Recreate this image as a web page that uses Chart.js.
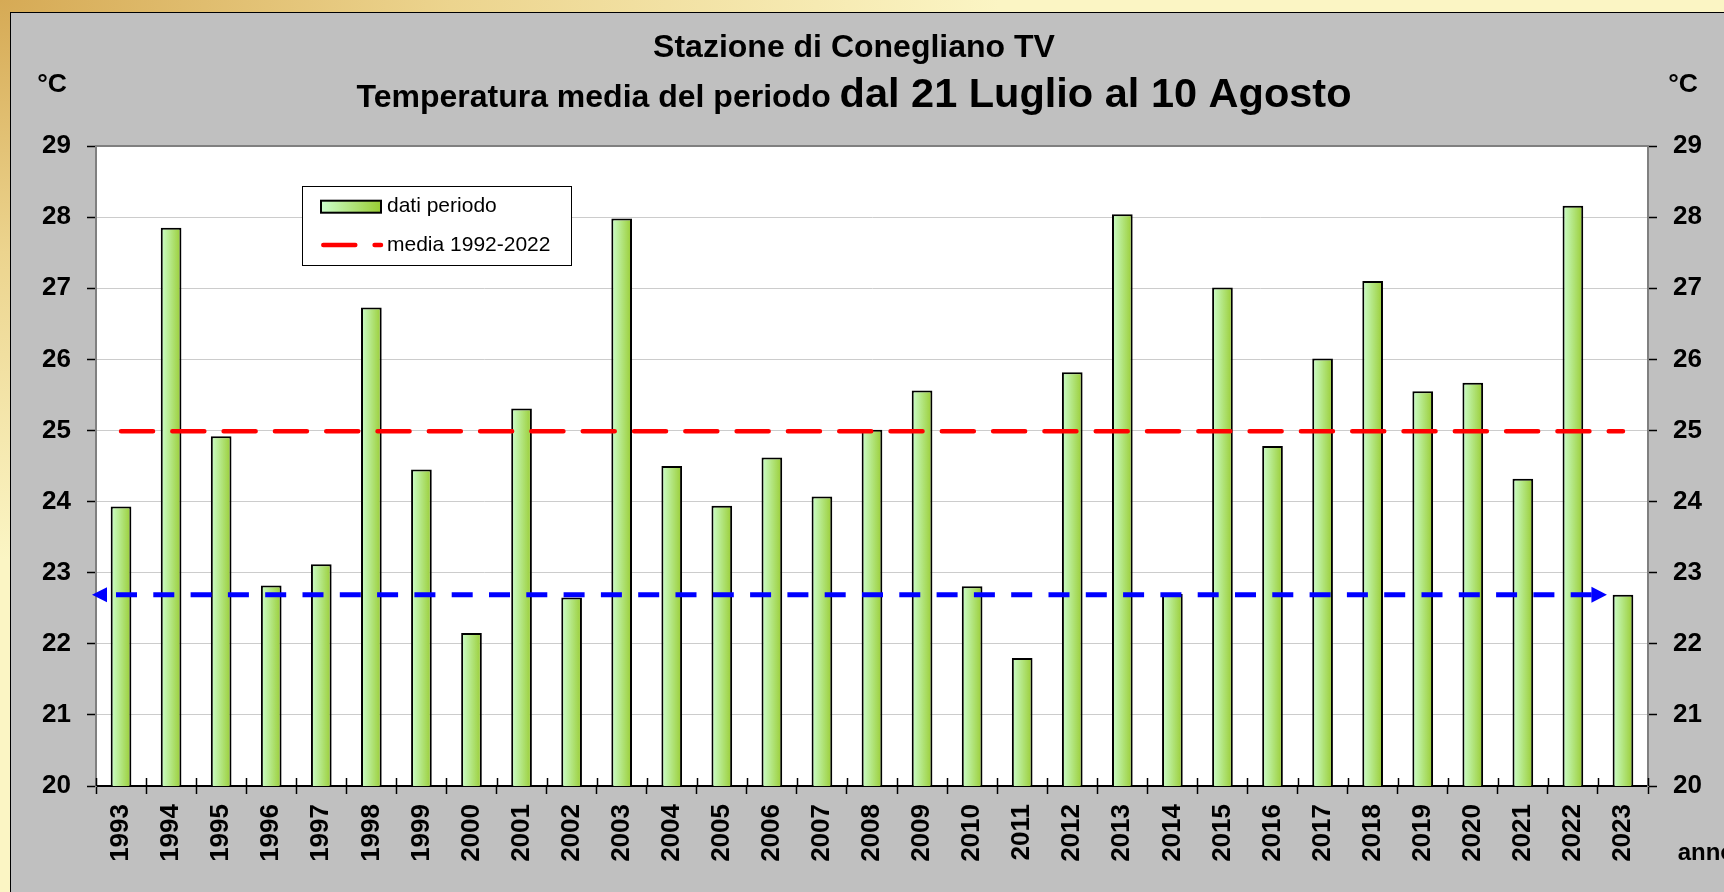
<!DOCTYPE html>
<html>
<head>
<meta charset="utf-8">
<script src="https://cdn.jsdelivr.net/npm/chart.js@4.4.1/dist/chart.umd.min.js"></script>
<style>
  html, body { margin: 0; padding: 0; }
  body {
    width: 1724px; height: 892px; overflow: hidden;
    background-color: #fbf5c4;
    background-image: radial-gradient(ellipse 1000px 560px at 0 0, #d6aa55 0%, #ecd48e 45%, #fbf5c4 100%);
  }
  #pannello {
    position: absolute; left: 10px; top: 12px;
    width: 1714px; height: 880px;
    border-left: 1px solid #000; border-top: 1px solid #000;
    background: #c0c0c0;
  }
  canvas { display: block; }
</style>
</head>
<body>
<div id="pannello"><canvas id="grafico" width="1713" height="879"></canvas></div>
<script>
// dati
const anni = ['1993', '1994', '1995', '1996', '1997', '1998', '1999', '2000', '2001', '2002',
  '2003', '2004', '2005', '2006', '2007', '2008', '2009', '2010', '2011', '2012',
  '2013', '2014', '2015', '2016', '2017', '2018', '2019', '2020', '2021', '2022', '2023'];
const temperature = [23.93, 27.85, 24.92, 22.82, 23.12, 26.73, 24.45, 22.15, 25.31, 22.65,
  27.98, 24.50, 23.94, 24.62, 24.07, 25.01, 25.56, 22.81, 21.80, 25.82,
  28.04, 22.70, 27.01, 24.78, 26.01, 27.10, 25.55, 25.67, 24.32, 28.16, 22.69];
const mediaPeriodo = 24.99;       // media 1992-2022
const livello2023 = 22.69;        // freccia blu
const yMin = 20;
const yMax = 29;

const FONT = 'Liberation Sans, Arial, sans-serif';
const BAR_PCT = 0.413;
const rossoDash = [32, 19.3];

function gradienteBarra(ctx, x0, x1) {
  const g = ctx.createLinearGradient(x0, 0, x1, 0);
  g.addColorStop(0, '#ccffcc');
  g.addColorStop(1, '#99cc33');
  return g;
}

const sfondo = {
  id: 'sfondo',
  beforeDraw(chart) {
    const { ctx, chartArea: a } = chart;
    ctx.save();
    ctx.fillStyle = '#ffffff';
    ctx.fillRect(a.left, a.top, a.right - a.left, a.bottom - a.top);
    ctx.restore();
  },
  beforeDatasetsDraw(chart) {
    const { ctx, chartArea: a } = chart;
    ctx.save();
    ctx.strokeStyle = '#808080';
    ctx.lineWidth = 2;
    ctx.beginPath();
    ctx.moveTo(a.left, a.top);
    ctx.lineTo(a.right, a.top);
    ctx.stroke();
    // tacche interne asse x
    const xs = chart.scales.x;
    ctx.strokeStyle = '#000';
    ctx.lineWidth = 1.5;
    for (let i = 0; i <= anni.length; i++) {
      const px = Math.round(xs.getPixelForValue(i - 0.5)) + 0.5;
      ctx.beginPath();
      ctx.moveTo(px, a.bottom);
      ctx.lineTo(px, a.bottom - 8);
      ctx.stroke();
    }
    ctx.restore();
  }
};

const freccia = {
  id: 'freccia',
  afterDatasetsDraw(chart) {
    const { ctx, chartArea: a } = chart;
    const xs = chart.scales.x;
    const y = chart.scales.y.getPixelForValue(livello2023);
    const passo = xs.getPixelForValue(1) - xs.getPixelForValue(0);
    const x0 = a.left - 4;
    const x1 = xs.getPixelForValue(anni.length - 1) - passo * 0.32;
    ctx.save();
    ctx.strokeStyle = '#0000ff';
    ctx.fillStyle = '#0000ff';
    ctx.lineWidth = 5;
    ctx.setLineDash([21, 16.3]);
    ctx.beginPath();
    ctx.moveTo(x0 + 24, y);
    ctx.lineTo(x1 - 14, y);
    ctx.stroke();
    ctx.setLineDash([]);
    ctx.beginPath();
    ctx.moveTo(x0, y);
    ctx.lineTo(x0 + 15, y - 7.5);
    ctx.lineTo(x0 + 15, y + 7.5);
    ctx.closePath();
    ctx.fill();
    ctx.beginPath();
    ctx.moveTo(x1, y);
    ctx.lineTo(x1 - 15.5, y - 8);
    ctx.lineTo(x1 - 15.5, y + 8);
    ctx.closePath();
    ctx.fill();
    ctx.restore();
  }
};

const testi = {
  id: 'testi',
  afterDraw(chart) {
    const { ctx, chartArea: a } = chart;
    ctx.save();
    ctx.fillStyle = '#000';
    ctx.textBaseline = 'alphabetic';

    // titolo
    const cx = 843;
    ctx.font = 'bold 32px ' + FONT;
    ctx.textAlign = 'center';
    ctx.fillText('Stazione di Conegliano TV', cx, 43.5);
    const t1 = 'Temperatura media del periodo ';
    const t2 = 'dal 21 Luglio al 10 Agosto';
    const w1 = ctx.measureText(t1).width;
    ctx.font = 'bold 41.5px ' + FONT;
    const w2 = ctx.measureText(t2).width;
    const sx = cx - (w1 + w2) / 2;
    ctx.textAlign = 'left';
    ctx.font = 'bold 32px ' + FONT;
    ctx.fillText(t1, sx, 94.3);
    ctx.font = 'bold 41.5px ' + FONT;
    ctx.fillText(t2, sx + w1, 94.3);

    // unità e asse
    ctx.font = 'bold 26.5px ' + FONT;
    ctx.textAlign = 'center';
    ctx.textBaseline = 'middle';
    ctx.fillText('°C', 41, 72);
    ctx.fillText('°C', 1672, 72);
    ctx.font = 'bold 24px ' + FONT;
    ctx.textAlign = 'left';
    ctx.fillText('anno', 1666.7, 840);

    // legenda
    const bx = a.left + 206, by = a.top + 40, bw = 269, bh = 79;
    ctx.fillStyle = '#fff';
    ctx.fillRect(bx, by, bw, bh);
    ctx.strokeStyle = '#000';
    ctx.lineWidth = 1;
    ctx.strokeRect(bx + 0.5, by + 0.5, bw, bh);
    const ds = chart.data.datasets;
    const r1 = by + 20.7, r2 = by + 59;
    const sw0 = bx + 19, sw1 = bx + 79;
    ctx.fillStyle = gradienteBarra(ctx, sw0, sw1);
    ctx.fillRect(sw0, r1 - 6, sw1 - sw0, 12);
    ctx.lineWidth = 2;
    ctx.strokeRect(sw0, r1 - 6, sw1 - sw0, 12);
    ctx.strokeStyle = ds[1].borderColor;
    ctx.lineWidth = ds[1].borderWidth;
    ctx.lineCap = 'round';
    ctx.setLineDash(rossoDash);
    ctx.beginPath();
    ctx.moveTo(sw0 + 2.3, r2);
    ctx.lineTo(sw1, r2);
    ctx.stroke();
    ctx.setLineDash([]);
    ctx.fillStyle = '#000';
    ctx.font = '21px ' + FONT;
    ctx.textBaseline = 'middle';
    ctx.fillText(ds[0].label, bx + 85, r1);
    ctx.fillText(ds[1].label, bx + 85, r2);
    ctx.restore();
  }
};

const tickFont = { family: FONT, size: 26, weight: 'bold' };

new Chart(document.getElementById('grafico'), {
  type: 'bar',
  data: {
    labels: anni,
    datasets: [
      {
        type: 'bar',
        label: 'dati periodo',
        data: temperature,
        order: 2,
        borderColor: '#000',
        borderWidth: 2,
        barPercentage: BAR_PCT,
        categoryPercentage: 1,
        backgroundColor: (c) => {
          const chart = c.chart;
          const a = chart.chartArea;
          if (!a || c.type !== 'data') return '#b3e07a';
          const xs = chart.scales.x;
          const px = xs.getPixelForValue(c.dataIndex);
          const w = (a.right - a.left) / anni.length * BAR_PCT;
          return gradienteBarra(chart.ctx, px - w / 2, px + w / 2);
        }
      },
      {
        type: 'line',
        label: 'media 1992-2022',
        data: anni.map(() => mediaPeriodo),
        order: 1,
        borderColor: '#ff0000',
        borderWidth: 4.5,
        borderDash: rossoDash,
        borderCapStyle: 'round',
        pointRadius: 0,
        fill: false
      }
    ]
  },
  options: {
    responsive: false,
    animation: false,
    layout: { padding: { top: 133, left: 0, right: 0, bottom: 0 } },
    plugins: {
      legend: { display: false },
      title: { display: false },
      tooltip: { enabled: false }
    },
    scales: {
      x: {
        offset: true,
        grid: {
          offset: true,
          drawOnChartArea: false,
          tickLength: 8,
          tickColor: '#000',
          tickWidth: 1.5
        },
        border: { color: '#000', width: 2 },
        ticks: {
          autoSkip: false,
          maxRotation: 90,
          minRotation: 90,
          padding: 10,
          color: '#000',
          font: tickFont
        },
        afterFit(s) { s.height = 106; }
      },
      y: {
        position: 'left',
        min: yMin,
        max: yMax,
        grid: {
          color: '#cccccc',
          lineWidth: 1,
          tickLength: 9,
          tickColor: '#000',
          tickWidth: 1.5
        },
        border: { color: '#808080', width: 2 },
        ticks: { stepSize: 1, padding: 16, color: '#000', font: tickFont },
        afterFit(s) { s.width = 85; }
      },
      y2: {
        position: 'right',
        min: yMin,
        max: yMax,
        grid: {
          drawOnChartArea: false,
          tickLength: 9,
          tickColor: '#000',
          tickWidth: 1.5
        },
        border: { color: '#808080', width: 2 },
        ticks: { stepSize: 1, padding: 16, color: '#000', font: tickFont },
        afterFit(s) { s.width = 76; }
      }
    }
  },
  plugins: [sfondo, freccia, testi]
});
</script>
</body>
</html>
